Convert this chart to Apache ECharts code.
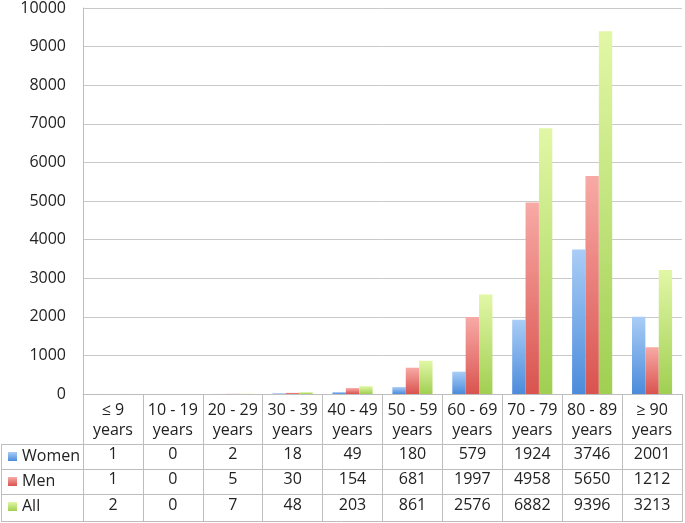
<!DOCTYPE html>
<html>
<head>
<meta charset="utf-8">
<script src="https://cdn.jsdelivr.net/npm/echarts@6/dist/echarts.min.js"></script>
<style>
html,body{margin:0;padding:0;background:#fff;}
#c{width:685px;height:523px;}
</style>
</head>
<body>
<div id="c"></div>
<script>
const ageGroups = ['≤ 9', '10 - 19', '20 - 29', '30 - 39', '40 - 49', '50 - 59', '60 - 69', '70 - 79', '80 - 89', '≥ 90'];
const women = [1, 0, 2, 18, 49, 180, 579, 1924, 3746, 2001];
const men = [1, 0, 5, 30, 154, 681, 1997, 4958, 5650, 1212];
const all = [2, 0, 7, 48, 203, 861, 2576, 6882, 9396, 3213];
const seriesNames = ['Women', 'Men', 'All'];
const yTicks = { min: 0, max: 10000, interval: 1000 };

const FONT = 'Open Sans';
const FS = 16;
const TXT = '#222';
const LINE = '#bdbdbd';

function grad(top, bottom) {
  return new echarts.graphic.LinearGradient(0, 0, 0, 1, [
    { offset: 0, color: top }, { offset: 1, color: bottom }
  ]);
}
const colors = [grad('#a9cdf6', '#4b8bdb'), grad('#f8aaa6', '#d9534f'), grad('#e2f7a6', '#a0cf52')];
const seriesData = [women, men, all];

const chart = echarts.init(document.getElementById('c'), null, { renderer: 'canvas' });

const gridLeft = 83, gridRight = 3, gridTop = 6, gridBottom = 129;
const rowOffsets = [52, 77, 103];

const xAxes = [{
  type: 'category',
  data: ageGroups,
  gridIndex: 0,
  position: 'bottom',
  axisLine: { show: true, lineStyle: { color: LINE, width: 1 } },
  axisTick: { show: true, length: 128, lineStyle: { color: LINE, width: 1 } },
  axisLabel: {
    interval: 0, margin: 6, color: TXT, fontFamily: FONT, fontSize: FS, lineHeight: 20,
    formatter: v => v + '\nyears'
  }
}];
seriesData.forEach((arr, i) => {
  xAxes.push({
    type: 'category',
    data: arr.map(String),
    gridIndex: 0,
    position: 'bottom',
    offset: rowOffsets[i],
    axisLine: { show: false },
    axisTick: { show: false },
    axisLabel: { interval: 0, margin: 0, color: TXT, fontFamily: FONT, fontSize: FS }
  });
});

const tableW = 685 - gridRight;
const rowLines = [444, 469, 494, 521];
const graphics = rowLines.map(y => ({
  type: 'line', shape: { x1: 1, y1: y + 0.5, x2: tableW, y2: y + 0.5 },
  style: { stroke: LINE, lineWidth: 1 }
}));
graphics.push({
  type: 'line', shape: { x1: 1.5, y1: 444, x2: 1.5, y2: 521.5 },
  style: { stroke: LINE, lineWidth: 1 }
});

chart.setOption({
  animation: false,
  backgroundColor: '#fff',
  grid: { left: gridLeft, right: gridRight, top: gridTop, bottom: gridBottom, containLabel: false },
  legend: {
    data: seriesNames,
    orient: 'vertical',
    left: 8,
    top: 448,
    padding: 0,
    height: 75,
    itemWidth: 9,
    itemHeight: 9,
    itemGap: 8,
    icon: 'rect',
    textStyle: { color: TXT, fontFamily: FONT, fontSize: FS, lineHeight: 17, padding: 0 },
    selectedMode: false
  },
  xAxis: xAxes,
  yAxis: {
    type: 'value',
    min: yTicks.min, max: yTicks.max, interval: yTicks.interval,
    axisLine: { show: true, lineStyle: { color: LINE } },
    axisTick: { show: false },
    splitLine: { show: true, lineStyle: { color: '#c9c9c9', width: 1 } },
    axisLabel: { margin: 17, color: TXT, fontFamily: FONT, fontSize: FS, formatter: v => String(v) }
  },
  series: seriesNames.map((name, i) => ({
    name,
    type: 'bar',
    xAxisIndex: 0,
    data: seriesData[i],
    barGap: '0%',
    barCategoryGap: '33%',
    itemStyle: { color: colors[i] }
  })),
  graphic: graphics
});
</script>
</body>
</html>
